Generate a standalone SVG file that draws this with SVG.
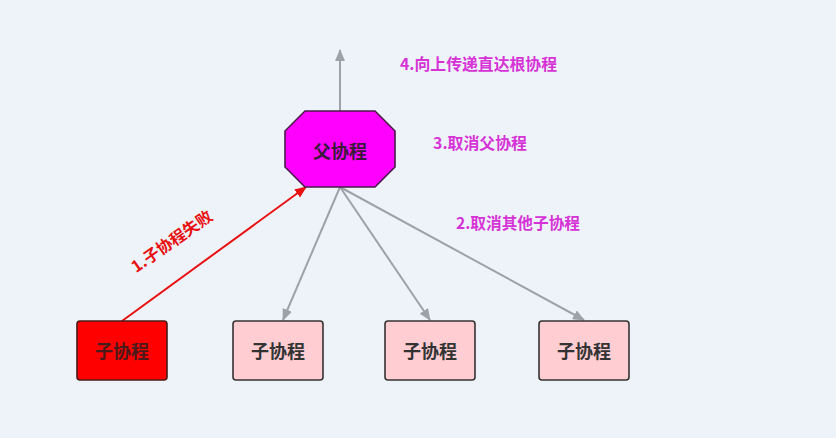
<svg xmlns="http://www.w3.org/2000/svg" width="836" height="438" viewBox="0 0 836 438">
<style>
text{font-family:"Noto Sans CJK SC","Liberation Sans",sans-serif;font-weight:bold;}
.box{fill:#ffcdd2;stroke:#333;stroke-width:1.6;}
.nt{font-size:18px;fill:#333;text-anchor:middle;}
.lbl{font-size:16px;fill:#d633d6;}
.gl{stroke:#9ea2a8;stroke-width:2;fill:none;}
</style>
<defs>
<marker id="ag" viewBox="0 0 12 10" refX="11" refY="5" markerWidth="12" markerHeight="10" markerUnits="userSpaceOnUse" orient="auto"><path d="M0,0 L12,5 L0,10 z" fill="#9ea2a8"/></marker>
<marker id="ar" viewBox="0 0 12 10" refX="11" refY="5" markerWidth="12" markerHeight="10" markerUnits="userSpaceOnUse" orient="auto"><path d="M0,0 L12,5 L0,10 z" fill="#e81010"/></marker>
</defs>
<rect width="836" height="438" fill="#eef3fa"/>
<g id="connectors">
<line class="gl" x1="340" y1="111" x2="340" y2="50" marker-end="url(#ag)"/>
<line class="gl" x1="340" y1="187" x2="283" y2="320" marker-end="url(#ag)"/>
<line class="gl" x1="340" y1="187" x2="430" y2="320" marker-end="url(#ag)"/>
<line class="gl" x1="340" y1="187" x2="584" y2="320" marker-end="url(#ag)"/>
<line x1="122" y1="321" x2="306" y2="187" stroke="#e81010" stroke-width="2" marker-end="url(#ar)"/>
</g>
<g id="parent">
<polygon points="305,111 375,111 395,131 395,167 375,187 305,187 285,167 285,131" fill="#ff00ff" stroke="#4a1a4a" stroke-width="1.6"/>
<text class="nt" x="340" y="158" fill="#3a1a3a" style="fill:#3a1a3a">父协程</text>
</g>
<g id="child1">
<rect x="77" y="321" width="90" height="59" rx="3" fill="#ff0000" stroke="#4a1a1a" stroke-width="1.6"/>
<text class="nt" x="122" y="358" style="fill:#4a1a1a">子协程</text>
</g>
<g id="child2">
<rect class="box" x="233" y="321" width="90" height="59" rx="3"/>
<text class="nt" x="278" y="358">子协程</text>
</g>
<g id="child3">
<rect class="box" x="385" y="321" width="90" height="59" rx="3"/>
<text class="nt" x="430" y="358">子协程</text>
</g>
<g id="child4">
<rect class="box" x="539" y="321" width="90" height="59" rx="3"/>
<text class="nt" x="584" y="358">子协程</text>
</g>
<g id="labels">
<text class="lbl" x="400" y="70" textLength="157" lengthAdjust="spacingAndGlyphs">4.向上传递直达根协程</text>
<text class="lbl" x="433" y="149" textLength="94" lengthAdjust="spacingAndGlyphs">3.取消父协程</text>
<text class="lbl" x="456" y="229" textLength="124" lengthAdjust="spacingAndGlyphs">2.取消其他子协程</text>
<text transform="translate(175,246) rotate(-35)" text-anchor="middle" font-size="16" fill="#e81010">1.子协程失败</text>
</g>
</svg>
